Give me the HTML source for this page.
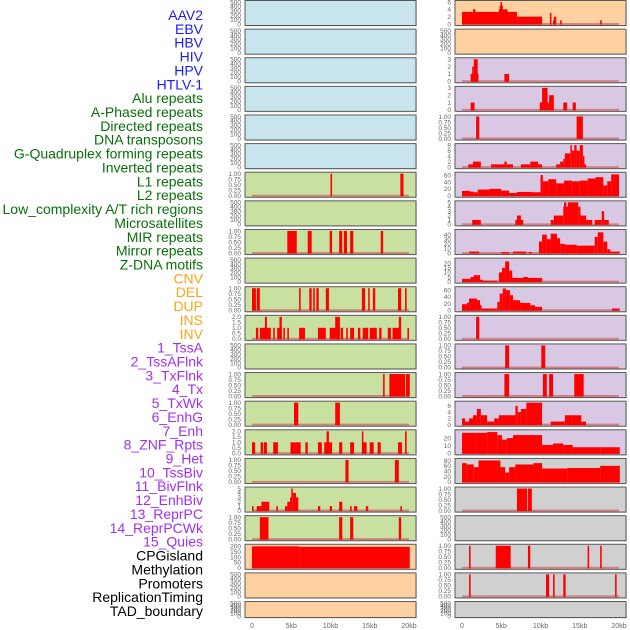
<!DOCTYPE html>
<html><head><meta charset="utf-8"><style>
html,body{margin:0;padding:0;background:#fff;}
svg{display:block;font-family:"Liberation Sans",sans-serif;}
</style></head><body>
<svg id="chart" width="630" height="630" viewBox="0 0 630 630" xmlns="http://www.w3.org/2000/svg"></svg>
<script>
const trackLabels = ["AAV2","EBV","HBV","HIV","HPV","HTLV-1","Alu repeats","A-Phased repeats","Directed repeats","DNA transposons","G-Quadruplex forming repeats","Inverted repeats","L1 repeats","L2 repeats","Low_complexity A/T rich regions","Microsatellites","MIR repeats","Mirror repeats","Z-DNA motifs","CNV","DEL","DUP","INS","INV","1_TssA","2_TssAFlnk","3_TxFlnk","4_Tx","5_TxWk","6_EnhG","7_Enh","8_ZNF_Rpts","9_Het","10_TssBiv","11_BivFlnk","12_EnhBiv","13_ReprPC","14_ReprPCWk","15_Quies","CPGisland","Methylation","Promoters","ReplicationTiming","TAD_boundary"];
const labelColors = ["#1a1aff","#1a1aff","#1a1aff","#1a1aff","#1a1aff","#1a1aff","#087008","#087008","#087008","#087008","#087008","#087008","#087008","#087008","#087008","#087008","#087008","#087008","#087008","#ffa31a","#ffa31a","#ffa31a","#ffa31a","#ffa31a","#a030ee","#a030ee","#a030ee","#a030ee","#a030ee","#a030ee","#a030ee","#a030ee","#a030ee","#a030ee","#a030ee","#a030ee","#a030ee","#a030ee","#a030ee","#000","#000","#000","#000","#000"];
const xTickValues = [0,5,10,15,20];
const xTickLabels = ["0","5kb","10kb","15kb","20kb"];
const T500 = [0,100,200,300,400,500];
const TBIN = [0,0.25,0.5,0.75,1];
const leftBg = ["#c8e4ec","#c8e4ec","#c8e4ec","#c8e4ec","#c8e4ec","#c8e4ec","#c8e0a0","#c8e0a0","#c8e0a0","#c8e0a0","#c8e0a0","#c8e0a0","#c8e0a0","#c8e0a0","#c8e0a0","#c8e0a0","#c8e0a0","#c8e0a0","#c8e0a0","#ffd0a0","#ffd0a0","#ffd0a0"];
const rightBg = ["#ffd0a0","#ffd0a0","#d8c8e4","#d8c8e4","#d8c8e4","#d8c8e4","#d8c8e4","#d8c8e4","#d8c8e4","#d8c8e4","#d8c8e4","#d8c8e4","#d8c8e4","#d8c8e4","#d8c8e4","#d8c8e4","#d0d0d0","#d0d0d0","#d0d0d0","#d0d0d0","#d0d0d0","#d0d0d0"];
const leftTicks = [T500,T500,T500,T500,T500,T500,TBIN,T500,TBIN,T500,TBIN,[0,0.5,1,1.5,2],T500,TBIN,TBIN,[0,0.5,1,1.5,2],TBIN,[0,1,2,3,4,5],TBIN,[0,50,100,150,200],T500,T500];
const rightTicks = [[0,2,4,6],T500,[0,1,2,3],[0,1,2,3],TBIN,[0,2,4,6,8],[0,20,40,60],[0,1,2,3,4,5],[0,10,20,30,40],[0,5,10,15,20],[0,20,40,60],TBIN,TBIN,TBIN,[0,2,4,6],[0,10,20],[0,20,40,60,80],TBIN,T500,TBIN,TBIN,T500];
const leftMax = [500,500,500,500,500,500,1,500,1,500,1,2,500,1,1,2,1,5,1,205,500,500];
const rightMax = [6,500,3,3,1,8,64,5,48,24,66,1,1,1,7,29,82,1,500,1,1,500];
// segments: [startKb, endKb, value]
const leftSeries = [[],[],[],[],[],[],
 [[10.0,10.2,1],[18.9,19.3,1]],
 [],
 [[4.5,5.7,1],[7.1,7.6,1],[9.9,10.2,1],[11.1,11.5,1],[11.7,12.1,1],[12.5,12.9,1],[16.4,16.7,1]],
 [],
 [[0,0.5,1],[0.6,1.0,1],[6.0,6.2,1],[7.3,7.6,1],[7.8,8.0,1],[8.2,8.5,1],[9.4,9.8,1],[14.0,14.4,1],[14.8,14.9,1],[15.4,15.7,1],[18.6,19.0,1],[19.5,19.7,1]],
 [[0.5,0.8,1],[1.0,2.4,1],[1.65,1.9,2],[2.7,2.9,1],[3.2,3.8,1],[3.5,3.8,2],[4.0,4.2,1],[4.5,4.7,1],[6.0,6.75,1],[8.4,9.4,1],[9.9,11.2,1],[10.6,11.2,2],[11.3,11.6,1],[12.0,12.2,1],[12.5,13.0,1],[13.5,13.8,1],[14.1,14.8,1],[15.0,15.9,1],[16.2,16.5,1],[17.3,17.7,1],[17.9,18.8,1],[18.7,19.0,2],[19.8,20.0,1]],
 [],
 [[16.7,16.9,1],[17.5,19.5,1],[19.6,20.1,1]],
 [[5.35,5.9,1],[10.6,11.2,1]],
 [[0,0.4,1],[1.1,1.4,1],[1.5,1.9,1],[2.7,3.3,1],[4.9,6.2,1],[6.8,7.1,1],[8.4,8.9,1],[9.2,10.2,1],[9.5,9.8,2],[11.1,11.5,1],[12.5,13.0,1],[14.0,14.6,1],[14.0,14.15,2],[15.0,15.5,1],[16.0,16.4,1],[18.6,19.1,1],[19.5,19.7,2]],
 [[11.9,12.3,1],[18.2,18.7,1]],
 [[0,0.2,1],[0.6,1.2,1],[1.2,2.2,2],[3.1,3.3,1],[4.2,4.5,1],[4.5,4.85,2],[4.85,5.0,3],[5.0,5.2,5],[5.2,5.6,4],[5.6,5.9,3],[8.4,8.7,1],[9.9,10.2,1],[11.1,11.5,2],[12.5,12.7,1],[13.0,13.4,1],[14.5,14.8,1],[18.9,19.1,1]],
 [[1.0,2.1,1],[11.1,11.5,1],[12.5,12.9,1],[18.7,19.0,1]],
 [[0,6.0,200],[6.0,20.1,195]],
 [],[]];
const rightSeries = [
 [[0,7.0,3.3],[1.4,1.7,4],[4.7,5.4,4],[4.8,5.2,5],[4.9,5.0,6],[5.4,5.8,4],[7.0,10.2,2],[11.2,11.35,3],[11.7,12.0,2],[11.6,11.75,1],[12.5,12.7,1],[17.6,17.8,1]],
 [],
 [[1.1,2.1,1],[1.3,1.5,2],[1.5,2.0,3],[5.4,6.0,1]],
 [[1.1,1.6,1],[9.9,10.2,1],[10.2,10.9,3],[10.9,11.1,1],[11.1,11.7,2],[12.9,13.4,1],[14.1,14.5,1]],
 [[1.8,2.2,1],[14.6,15.4,1]],
 [[0.8,1.4,1],[1.4,2.4,2],[3.7,5.4,1],[5.4,5.7,2],[5.7,6.5,1],[7.5,8.7,1],[8.7,9.7,2],[9.7,10.2,1],[12.0,12.5,1],[12.5,12.9,2],[12.9,13.1,3],[13.1,13.8,5],[13.8,14.0,8],[14.0,14.3,6],[14.3,14.6,8],[14.6,15.0,6],[15.0,15.4,8],[15.4,15.5,4],[15.5,15.8,1]],
 [[0,1.0,14],[1.0,1.5,12],[1.5,2.0,10],[2.0,3.5,18],[3.5,5.0,20],[5.0,6.0,15],[6.0,7.0,8],[7.0,9.0,11],[9.0,10.0,10],[10.0,10.3,60],[10.3,11.0,42],[11.0,12.0,48],[12.0,13.0,36],[13.0,14.0,44],[14.0,15.0,42],[15.0,16.0,44],[16.0,17.0,50],[17.0,18.0,54],[18.0,18.5,30],[18.5,19.0,42],[19.0,20.0,62]],
 [[1.3,2.4,1],[6.8,7.8,1],[7.0,7.5,2],[11.3,11.7,1],[11.7,12.9,2],[12.9,13.5,4],[13.0,13.3,5],[13.5,14.8,5],[14.8,15.1,4],[15.1,15.8,2],[15.8,16.6,1],[16.9,17.8,1],[17.8,18.1,3],[18.1,18.7,1]],
 [[0.9,2.2,3],[5.0,6.0,2],[6.5,8.2,3],[8.5,8.9,2],[9.8,10.2,25],[10.2,10.8,40],[10.8,11.3,30],[11.3,12.1,42],[12.1,12.5,32],[12.5,13.1,20],[13.1,14.6,18],[14.6,16.9,16],[16.9,17.3,35],[17.3,18.0,45],[18.0,18.5,25],[18.5,18.9,8],[18.9,20.1,3]],
 [[0,1.1,3],[1.1,1.5,5],[1.5,2.3,7],[2.3,2.7,2],[2.7,4.5,1],[4.7,5.1,10],[5.1,5.5,15],[5.5,6.0,22],[6.0,6.4,12],[6.4,7.8,4],[7.8,8.4,5],[8.4,10.2,4]],
 [[0,0.6,18],[0.6,0.9,22],[0.9,1.9,35],[1.9,2.3,30],[2.3,2.5,15],[2.5,4.5,5],[4.5,4.8,25],[4.8,5.2,50],[5.2,5.6,65],[5.6,6.1,60],[6.1,6.5,45],[6.5,7.4,30],[7.4,8.7,22],[8.7,9.3,15],[9.3,10.2,10],[19.1,20.1,5]],
 [[1.8,2.2,1]],
 [[5.5,6.0,1],[10.1,10.6,1]],
 [[5.4,6.0,1],[10.3,10.8,1],[11.1,11.6,1],[14.3,15.5,1]],
 [[0,0.4,2],[0.4,0.9,1],[0.9,1.4,2],[1.4,1.9,3],[1.9,2.4,5],[2.4,3.2,3],[3.2,4.1,1],[4.1,4.7,2],[4.7,6.8,3],[6.8,7.1,6],[7.1,7.5,4],[7.5,8.2,5],[8.2,10.2,7],[11.3,13.1,1],[13.1,14.0,3],[14.0,15.2,3],[15.2,15.8,1]],
 [[0,1.9,27],[1.9,3.2,27],[3.2,4.5,28],[4.5,5.1,24],[5.1,5.7,18],[5.7,6.5,20],[6.5,10.2,24],[10.2,11.6,11],[11.6,12.9,13],[12.9,14.1,11],[14.1,17.6,8],[17.6,20.1,8]],
 [[0,0.6,70],[0.6,1.5,65],[1.5,2.1,55],[2.1,4.9,80],[4.9,5.5,55],[5.5,6.0,35],[6.0,6.8,55],[6.8,9.1,65],[9.1,10.2,70],[10.2,13.4,50],[13.4,17.6,52],[17.6,20.1,60]],
 [[7.0,8.3,1],[8.4,8.9,1]],
 [],
 [[0.9,1.1,1],[4.3,6.2,1],[8.4,8.7,1],[16.0,16.2,1],[17.6,17.8,1]],
 [[0.9,1.1,1],[10.7,11.1,1],[11.6,11.8,1],[12.9,13.2,1],[19.5,19.7,1]],
 []];

const NS = "http://www.w3.org/2000/svg";
const svg = document.getElementById("chart");
function mk(tag, attrs, parent){ const e=document.createElementNS(NS,tag); for(const k in attrs) e.setAttribute(k,attrs[k]); (parent||svg).appendChild(e); return e; }
const ROW = 28.62;
function panelTop(i){ return i*ROW + 0.5; }
function panelH(i){ return i===21 ? 16 : 25; }
function fmtTick(v, ticks){ return ticks===TBIN ? v.toFixed(2) : (ticks[ticks.length-1]===2 ? v.toFixed(1) : String(v)); }

// labels
trackLabels.forEach((t,i)=>{
  const e = mk("text",{x:203,y:20+i*13.86,"text-anchor":"end","font-size":"14",fill:labelColors[i]});
  e.textContent = t;
  
  
});

function drawPanel(col, i){
  const x0 = col===0 ? 245 : 455, w = 171;
  const xs = kb => (col===0 ? 252 : 462) + kb*7.85;
  const top = panelTop(i), h = panelH(i);
  const ymax = col===0 ? leftMax[i] : rightMax[i];
  const ticks = col===0 ? leftTicks[i] : rightTicks[i];
  const segs = col===0 ? leftSeries[i] : rightSeries[i];
  const ys = v => top + h - 1.5 - (v/ymax)*(h-3);
  const g = mk("g",{});
  
  
  mk("rect",{x:x0+1,y:top+1,width:w,height:h,fill:"#bbb",opacity:0.5},g);
  mk("rect",{x:x0,y:top,width:w,height:h,fill:col===0?leftBg[i]:rightBg[i],stroke:"#5a5a5a","stroke-width":1},g);
  if(segs.length){
    const base = mk("line",{x1:xs(0),x2:xs(20),y1:top+h-1.5,y2:top+h-1.5,stroke:"#d06060","stroke-width":2,opacity:0.7},g);
    
    
  }
  segs.forEach(s=>{
    const y = ys(s[2]);
    const r = mk("rect",{x:xs(s[0]),y:y,width:Math.max(1.5,xs(s[1])-xs(s[0])),height:top+h-1-y,fill:"#ff0000"},g);
    
    
  });
  ticks.forEach(v=>{
    const t = mk("text",{x:x0-4,y:ys(v)+2.3,"text-anchor":"end","font-size":"6.5",fill:"#666"},g);
    t.textContent = fmtTick(v,ticks);
    
    
  });
}
for(let i=0;i<22;i++){ drawPanel(0,i); drawPanel(1,i); }

[0,1].forEach(col=>{
  xTickValues.forEach((v,k)=>{
    const t = mk("text",{x:(col===0?252:462)+v*7.85,y:628,"text-anchor":"middle","font-size":"7",fill:"#666"});
    t.textContent = xTickLabels[k];
    
    
  });
});
</script>
</body></html>
